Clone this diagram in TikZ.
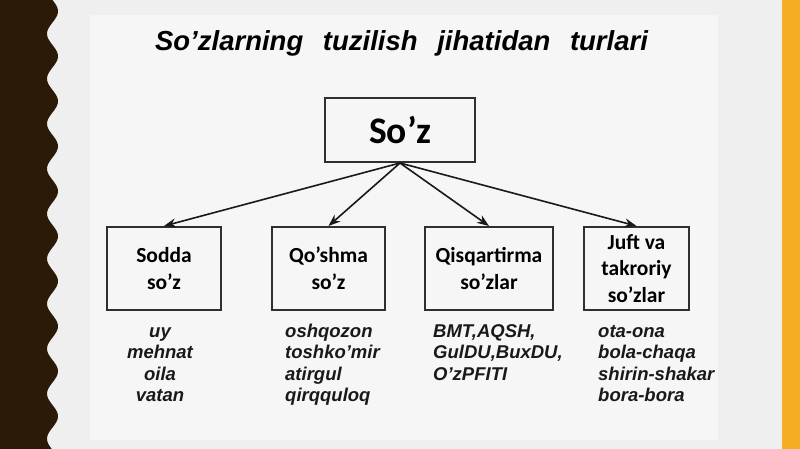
\documentclass[tikz,border=0pt]{standalone}
\usepackage{fontspec}
\setmainfont{Liberation Sans}
\newfontfamily\calibri{Carlito}
\usetikzlibrary{arrows.meta}
\definecolor{bark}{HTML}{2A1A07}
\definecolor{slide}{HTML}{EFEFEF}
\definecolor{panel}{HTML}{F6F6F6}
\definecolor{amber}{HTML}{F5AE24}
\definecolor{frame}{HTML}{2F2F2F}
\tikzset{
  kind/.style={draw=frame,line width=2pt,minimum height=83,inner sep=0,align=center,
    font=\calibri\bfseries\fontsize{21.5}{26.5}\selectfont},
  sample/.style={inner sep=0,anchor=base west,align=left,text=black!90,
    font=\bfseries\itshape\fontsize{18.5}{21.6}\selectfont},
  link/.style={line width=1.6pt,black!90,-{Stealth[length=12pt,width=9pt]}}
}

\begin{document}
\begin{tikzpicture}[x=1pt,y=-1pt]
    \useasboundingbox (0,0) rectangle (800,449);
    \fill[slide] (0,0) rectangle (800,449);
    \fill[panel] (90,15) rectangle (718,440);
    \fill[amber] (781.5,0) rectangle (800,449);
    \fill[bark] (0,0) -- plot[domain=0:449,samples=240,smooth] ({52.5+5.5*sin(\x*8)},\x) -- (0,449) -- cycle;

    \node[anchor=base,font=\bfseries\itshape\fontsize{27.5}{33}\selectfont] (title) at (401.5,50.7)
      {So’zlarning\hspace{12pt} tuzilish\hspace{12pt} jihatidan\hspace{12pt} turlari};

    \node[kind,minimum width=150,minimum height=64,font=\calibri\bfseries\fontsize{37.5}{40}\selectfont] (soz) at (400,130) {So’z};

    \foreach \n/\x/\w/\t in {sodda/164/114/{Sodda\\so’z}, qoshma/328.5/113/{Qo’shma\\so’z},
        qisqartirma/489/128/{Qisqartirma\\so’zlar}, juft/636.5/105/{Juft va\\takroriy\\so’zlar}} {
      \node[kind,minimum width=\w] (\n) at (\x,268.5) {\t};
      \draw[link] (soz.south) -- (\n.north);
    }

    % anchors sit on the last line
    \node[sample,anchor=base,align=center] (ex1) at (160,401.8) {uy\\mehnat\\oila\\vatan};
    \node[sample] (ex2) at (285,401.8) {oshqozon\\toshko’mir\\atirgul\\qirqquloq};
    \node[sample] (ex3) at (433,380.2) {BMT,AQSH,\\GulDU,BuxDU,\\O’zPFITI};
    \node[sample] (ex4) at (598,401.8) {ota-ona\\bola-chaqa\\shirin-shakar\\bora-bora};
  \end{tikzpicture}
\end{document}
